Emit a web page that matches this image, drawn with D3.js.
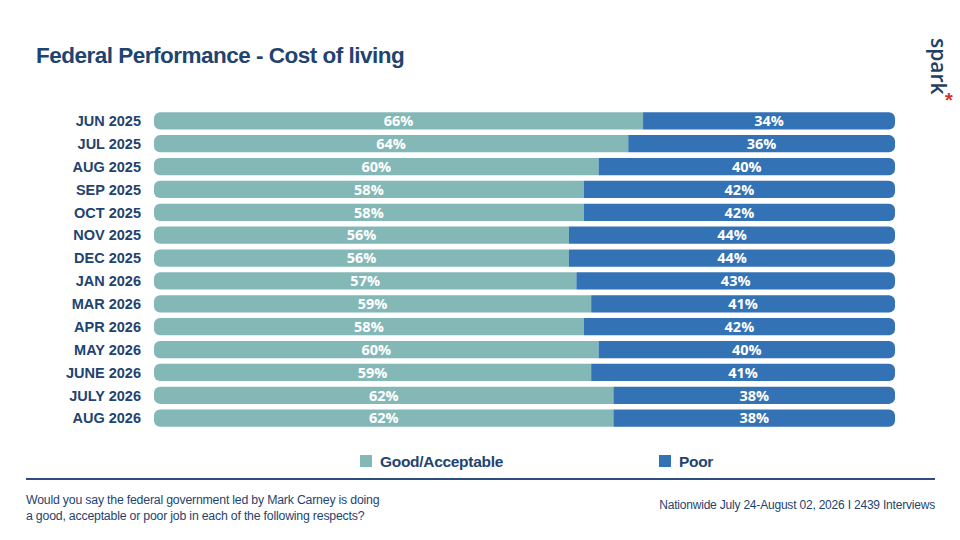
<!DOCTYPE html>
<html>
<head>
<meta charset="utf-8">
<script src="https://cdn.jsdelivr.net/npm/d3@7"></script>
<style>
  body { margin: 0; background: #fff; }
  svg { display: block; }
</style>
</head>
<body>
<div id="chart"></div>
<script>
// Survey waves, top to bottom
const waves = ["JUN 2025", "JUL 2025", "AUG 2025", "SEP 2025", "OCT 2025", "NOV 2025", "DEC 2025",
    "JAN 2026", "MAR 2026", "APR 2026", "MAY 2026", "JUNE 2026", "JULY 2026", "AUG 2026"];
const goodValues = [66, 64, 60, 58, 58, 56, 56, 57, 59, 58, 60, 59, 62, 62];
const poorValues = [34, 36, 40, 42, 42, 44, 44, 43, 41, 42, 40, 41, 38, 38];
const seriesNames = ["Good/Acceptable", "Poor"];

const W = 960, H = 540;
const navy = "#1f4470";
const colors = { good: "#84b8b7", poor: "#3272b5" };

const svg = d3.select("#chart").append("svg")
    .attr("width", W)
    .attr("height", H);

// Title
svg.append("text")
    .attr("x", 36)
    .attr("y", 63)
    .attr("font-family", "Liberation Sans, Arial, sans-serif")
    .attr("font-size", "22.5px")
    .attr("font-weight", "bold")
    .attr("letter-spacing", "-0.5px")
    .attr("fill", navy)
    .text("Federal Performance - Cost of living");

// Logo, rotated
const logo = svg.append("g").attr("transform", "translate(931,38) rotate(90)");
logo.append("text")
    .attr("x", 0)
    .attr("y", 0)
    .attr("font-family", "Open Sans, sans-serif")
    .attr("font-size", "21px")
    .attr("font-weight", "600")
    .attr("fill", "#1f3f66")
    .text("spark");
svg.append("text")
    .attr("x", 949)
    .attr("y", 107)
    .attr("text-anchor", "middle")
    .attr("font-family", "Liberation Sans, Arial, sans-serif")
    .attr("font-size", "20px")
    .attr("font-weight", "bold")
    .attr("fill", "#d9322b")
    .text("*");

// Scales
const x = d3.scaleLinear().domain([0, 100]).range([154, 895]);
const y = d3.scaleBand().domain(waves).range([109.5, 429.5]).paddingInner(0.25).paddingOuter(0.12);
const bh = y.bandwidth();
const r = 6;

// Rounded on one side only
function leftRounded(x0, y0, w, h) {
    return `M${x0 + r},${y0} H${x0 + w} V${y0 + h} H${x0 + r} A${r},${r} 0 0 1 ${x0},${y0 + h - r} V${y0 + r} A${r},${r} 0 0 1 ${x0 + r},${y0} Z`;
}
function rightRounded(x0, y0, w, h) {
    return `M${x0},${y0} H${x0 + w - r} A${r},${r} 0 0 1 ${x0 + w},${y0 + r} V${y0 + h - r} A${r},${r} 0 0 1 ${x0 + w - r},${y0 + h} H${x0} Z`;
}

const rows = waves.map((w, i) => ({ wave: w, good: goodValues[i], poor: poorValues[i] }));

const row = svg.append("g").selectAll("g")
    .data(rows)
    .join("g");

row.append("path")
    .attr("fill", colors.good)
    .attr("d", d => leftRounded(x(0), y(d.wave), x(d.good) - x(0), bh));

row.append("path")
    .attr("fill", colors.poor)
    .attr("d", d => rightRounded(x(d.good), y(d.wave), x(d.good + d.poor) - x(d.good), bh));

// Category labels
row.append("text")
    .attr("x", 141)
    .attr("y", d => y(d.wave) + bh / 2)
    .attr("dy", "0.36em")
    .attr("text-anchor", "end")
    .attr("font-family", "Liberation Sans, Arial, sans-serif")
    .attr("font-size", "14.5px")
    .attr("font-weight", "bold")
    .attr("fill", navy)
    .text(d => d.wave);

// Value labels
const valueFont = "Open Sans, sans-serif";
row.append("text")
    .attr("x", d => (x(0) + x(d.good)) / 2)
    .attr("y", d => y(d.wave) + bh / 2)
    .attr("dy", "0.36em")
    .attr("text-anchor", "middle")
    .attr("font-family", valueFont)
    .attr("font-size", "14.5px")
    .attr("font-weight", "bold")
    .attr("fill", "#fff")
    .text(d => d.good + "%");

row.append("text")
    .attr("x", d => (x(d.good) + x(d.good + d.poor)) / 2)
    .attr("y", d => y(d.wave) + bh / 2)
    .attr("dy", "0.36em")
    .attr("text-anchor", "middle")
    .attr("font-family", valueFont)
    .attr("font-size", "14.5px")
    .attr("font-weight", "bold")
    .attr("fill", "#fff")
    .text(d => d.poor + "%");

// Legend
const legendX = [360, 659];
const legendColors = [colors.good, colors.poor];
seriesNames.forEach((name, i) => {
    svg.append("rect")
        .attr("x", legendX[i])
        .attr("y", 455)
        .attr("width", 12)
        .attr("height", 12)
        .attr("fill", legendColors[i]);
    svg.append("text")
        .attr("x", legendX[i] + 20)
        .attr("y", 466.5)
        .attr("font-family", "Liberation Sans, Arial, sans-serif")
        .attr("font-size", "15.5px")
        .attr("font-weight", "bold")
        .attr("letter-spacing", "-0.3px")
        .attr("fill", navy)
        .text(name);
});

// Divider
svg.append("line")
    .attr("x1", 26)
    .attr("x2", 935)
    .attr("y1", 479)
    .attr("y2", 479)
    .attr("stroke", "#2d4e7e")
    .attr("stroke-width", 2);

// Footer
const footerFont = "Liberation Sans, Arial, sans-serif";
["Would you say the federal government led by Mark Carney is doing",
 "a good, acceptable or poor job in each of the following respects?"].forEach((line, i) => {
    svg.append("text")
        .attr("x", 26)
        .attr("y", 504 + i * 16)
        .attr("font-family", footerFont)
        .attr("font-size", "12.3px")
        .attr("letter-spacing", "-0.2px")
        .attr("fill", navy)
        .text(line);
});

svg.append("text")
    .attr("x", 935)
    .attr("y", 509)
    .attr("text-anchor", "end")
    .attr("font-family", footerFont)
    .attr("font-size", "12px")
    .attr("letter-spacing", "-0.2px")
    .attr("fill", navy)
    .text("Nationwide July 24-August 02, 2026  I  2439 Interviews");
</script>
</body>
</html>
